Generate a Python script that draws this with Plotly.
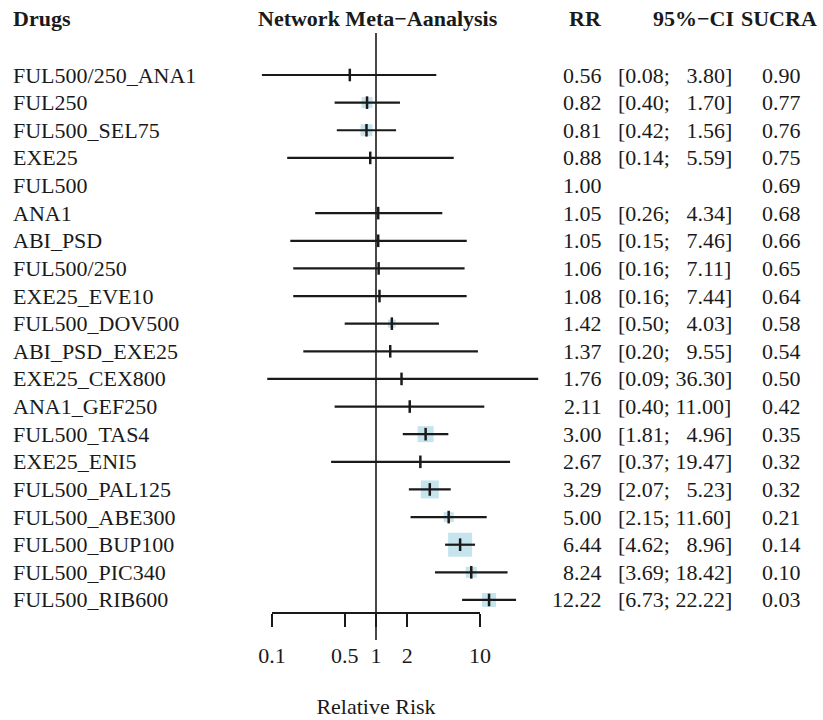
import plotly.graph_objects as go
import math

drugs = ["FUL500/250_ANA1", "FUL250", "FUL500_SEL75", "EXE25", "FUL500", "ANA1",
         "ABI_PSD", "FUL500/250", "EXE25_EVE10", "FUL500_DOV500", "ABI_PSD_EXE25",
         "EXE25_CEX800", "ANA1_GEF250", "FUL500_TAS4", "EXE25_ENI5", "FUL500_PAL125",
         "FUL500_ABE300", "FUL500_BUP100", "FUL500_PIC340", "FUL500_RIB600"]
rr = [0.56, 0.82, 0.81, 0.88, 1.00, 1.05, 1.05, 1.06, 1.08, 1.42, 1.37, 1.76, 2.11,
      3.00, 2.67, 3.29, 5.00, 6.44, 8.24, 12.22]
ci_low = [0.08, 0.40, 0.42, 0.14, None, 0.26, 0.15, 0.16, 0.16, 0.50, 0.20, 0.09, 0.40,
          1.81, 0.37, 2.07, 2.15, 4.62, 3.69, 6.73]
ci_high = [3.80, 1.70, 1.56, 5.59, None, 4.34, 7.46, 7.11, 7.44, 4.03, 9.55, 36.30, 11.00,
           4.96, 19.47, 5.23, 11.60, 8.96, 18.42, 22.22]
sucra = [0.90, 0.77, 0.76, 0.75, 0.69, 0.68, 0.66, 0.65, 0.64, 0.58, 0.54, 0.50, 0.42,
         0.35, 0.32, 0.32, 0.21, 0.14, 0.10, 0.03]
weight = [1, 11, 12, 1, 0, 1, 1, 1, 1, 8, 1, 1, 1, 16, 1, 18, 10, 24, 11, 14]
tick_vals = [0.1, 0.5, 1, 2, 10]
tick_text = ["0.1", "0.5", "1", "2", "10"]

W, H = 823, 720
FONT = "Liberation Serif"
FS = 22
INK = "#1a1a1a"

# pixel geometry helpers (layout only)
y0_px, dy_px = 75.0, 27.63
def row_of(px):
    return (px - y0_px) / dy_px
x1_px, dec_px = 376.0, 104.0
def xlog_of(px):
    return (px - x1_px) / dec_px
xr = [xlog_of(0), xlog_of(W)]
yr = [row_of(H), row_of(0)]

n = len(drugs)
rows = list(range(n))

fig = go.Figure()

# vertical reference line at RR = 1
fig.add_trace(go.Scatter(x=[1, 1], y=[row_of(33), row_of(640)], mode="lines",
                         line=dict(color=INK, width=1.6), hoverinfo="skip", showlegend=False))

# boxes
wmax = max(weight)
bx, by, bs = [], [], []
for i in rows:
    if weight[i] > 0:
        bx.append(rr[i]); by.append(i); bs.append(max(2.5, 24.0 * weight[i] / wmax))
fig.add_trace(go.Scatter(x=bx, y=by, mode="markers",
                         marker=dict(symbol="square", size=bs, color="#add8e6", line=dict(width=0)),
                         hoverinfo="skip", showlegend=False))

# CI lines
lx, ly = [], []
for i in rows:
    if ci_low[i] is not None:
        lx += [ci_low[i], ci_high[i], None]
        ly += [i, i, None]
fig.add_trace(go.Scatter(x=lx, y=ly, mode="lines", line=dict(color=INK, width=2.2),
                         hoverinfo="skip", showlegend=False))

# point estimate ticks
px_ = [rr[i] for i in rows if weight[i] > 0]
py_ = [i for i in rows if weight[i] > 0]
fig.add_trace(go.Scatter(x=px_, y=py_, mode="markers",
                         marker=dict(symbol="line-ns", size=9, line=dict(color=INK, width=2.5)),
                         hoverinfo="skip", showlegend=False))

# dummy trace for bottom axis
fig.add_trace(go.Scatter(x=[1], y=[0], xaxis="x2", yaxis="y", mode="markers",
                         marker=dict(opacity=0), hoverinfo="skip", showlegend=False))

ann = []
def txt(x_px, y_row, s, anchor, bold=False):
    ann.append(dict(x=xlog_of(x_px), y=y_row, xref="x", yref="y",
                    text=("<b>%s</b>" % s) if bold else s,
                    showarrow=False, xanchor=anchor, yanchor="middle", borderpad=0,
                    font=dict(family=FONT, size=FS, color=INK)))

hy = row_of(18)
txt(12, hy, "Drugs", "left", True)
txt(378, hy, "Network Meta\u2212Aanalysis", "center", True)
txt(603, hy, "RR", "right", True)
txt(735, hy, "95%\u2212CI", "right", True)
txt(818, hy, "SUCRA", "right", True)

for i in rows:
    txt(12, i, drugs[i], "left")
    txt(603, i, "%.2f" % rr[i], "right")
    if ci_low[i] is not None:
        gap = " " if ci_high[i] >= 10 else " \u2007"
        txt(617, i, "[%.2f;%s%.2f]" % (ci_low[i], gap, ci_high[i]), "left")
    txt(802, i, "%.2f" % sucra[i], "right")

fig.update_layout(
    width=W, height=H, margin=dict(l=0, r=0, t=0, b=0, pad=0, autoexpand=False),
    paper_bgcolor="white", plot_bgcolor="rgba(0,0,0,0)",
    xaxis=dict(type="log", range=xr, visible=False, domain=[0, 1]),
    yaxis=dict(range=yr, visible=False, domain=[0, 1]),
    xaxis2=dict(type="log", range=[-1, 1], domain=[272 / W, 480 / W], anchor="free",
                position=(H - 613) / H, showline=True, linecolor=INK, linewidth=2,
                ticks="outside", ticklen=13, tickwidth=2, tickcolor=INK,
                tickvals=tick_vals, ticktext=tick_text, showgrid=False, zeroline=False,
                tickfont=dict(family=FONT, size=FS, color=INK), ticklabelstandoff=10,
                title=dict(text="Relative Risk", font=dict(family=FONT, size=FS, color=INK),
                           standoff=30)),
    annotations=ann,
    showlegend=False,
    hovermode=False,
)

fig.write_html("out.html", config={"displayModeBar": False, "staticPlot": True},
               post_script="document.body.style.margin='0px';")
